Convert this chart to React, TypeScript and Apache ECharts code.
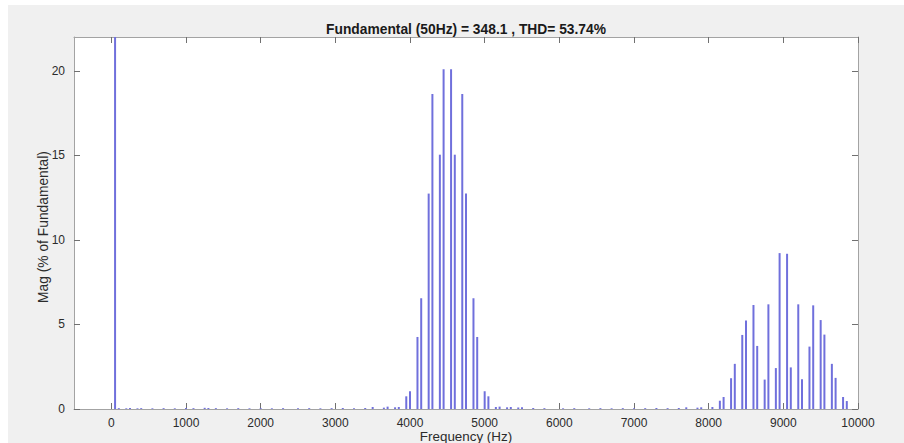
import React, { useEffect, useRef } from "react";
import * as echarts from "echarts";

const titleText = "Fundamental (50Hz) = 348.1 , THD= 53.74%";
const xAxisName = "Frequency (Hz)";
const yAxisName = "Mag (% of Fundamental)";

const xTicks = [0, 1000, 2000, 3000, 4000, 5000, 6000, 7000, 8000, 9000, 10000];
const yTicks = [0, 5, 10, 15, 20];

const fundamentalHz = [50];
const fundamentalMag = [100];

const bandOneHz = [3950, 4000, 4100, 4150, 4250, 4300, 4400, 4450, 4550, 4600, 4700, 4750, 4850, 4900, 5000, 5050];
const bandOneMag = [0.75, 1.05, 4.26, 6.55, 12.74, 18.63, 15.04, 20.1, 20.1, 15.04, 18.63, 12.74, 6.55, 4.26, 1.05, 0.75];

const bandTwoHz = [8150, 8200, 8300, 8350, 8450, 8500, 8600, 8650, 8750, 8800, 8900, 8950, 9050, 9100, 9200, 9250, 9350, 9400, 9500, 9550, 9650, 9700, 9800, 9850];
const bandTwoMag = [0.49, 0.71, 1.82, 2.67, 4.38, 5.24, 6.15, 3.73, 1.74, 6.19, 2.42, 9.22, 9.18, 2.46, 6.19, 1.76, 3.69, 6.13, 5.26, 4.4, 2.67, 1.84, 0.71, 0.47];

const noiseHz = [100, 200, 250, 350, 400, 550, 700, 850, 1000, 1100, 1250, 1300, 1400, 1550, 1700, 1850, 2000, 2150, 2300, 2500, 2650, 2800, 2950, 3100, 3250, 3400, 3500, 3650, 3700, 3800, 3850, 5150, 5200, 5300, 5350, 5450, 5500, 5650, 5800, 6050, 6200, 6400, 6550, 6700, 6850, 7000, 7150, 7300, 7450, 7600, 7700, 7850, 7900, 8050];
const noiseMag = [0.05, 0.04, 0.06, 0.04, 0.05, 0.04, 0.05, 0.04, 0.06, 0.05, 0.07, 0.06, 0.05, 0.04, 0.05, 0.04, 0.05, 0.04, 0.05, 0.04, 0.05, 0.04, 0.05, 0.06, 0.05, 0.06, 0.12, 0.08, 0.14, 0.1, 0.12, 0.12, 0.14, 0.1, 0.12, 0.09, 0.1, 0.06, 0.05, 0.04, 0.05, 0.04, 0.05, 0.04, 0.05, 0.04, 0.05, 0.06, 0.05, 0.06, 0.1, 0.08, 0.1, 0.12];

const BAR_COLOR = "#7070dc";
const BOX_COLOR = "#a3a3a3";
const TICK_COLOR = "#707070";
const TEXT_COLOR = "#2b2b2b";
const FONT = "'Liberation Sans', Arial, Helvetica, sans-serif";

function pairs(hz: number[], mag: number[]) {
  return hz.map((h, i) => [h, mag[i]]);
}

export default function App() {
  const ref = useRef<HTMLDivElement>(null);

  useEffect(() => {
    document.body.style.margin = "0";
    if (!ref.current) return;
    const chart = echarts.init(ref.current, undefined, { renderer: "svg" });

    const allData = [
      ...pairs(noiseHz, noiseMag),
      ...pairs(fundamentalHz, fundamentalMag),
      ...pairs(bandOneHz, bandOneMag),
      ...pairs(bandTwoHz, bandTwoMag),
    ];

    const baseX = {
      type: "value" as const,
      min: -500,
      max: 10000,
      splitLine: { show: false },
      axisLine: { show: true, onZero: false, lineStyle: { color: BOX_COLOR, width: 1 } },
    };
    const baseY = {
      type: "value" as const,
      min: 0,
      max: 22,
      splitLine: { show: false },
      axisLine: { show: true, onZero: false, lineStyle: { color: BOX_COLOR, width: 1 } },
    };

    chart.setOption({
      animation: false,
      backgroundColor: "#f0f0f0",
      grid: {
        left: 66,
        right: 46,
        top: 32,
        bottom: 34,
        show: true,
        backgroundColor: "#ffffff",
        borderWidth: 0,
      },
      xAxis: [
        {
          ...baseX,
          position: "bottom",
          axisTick: { show: true, inside: true, length: 6, customValues: xTicks, lineStyle: { color: TICK_COLOR } },
          axisLabel: {
            show: true,
            customValues: xTicks,
            formatter: (v: number) => String(v),
            margin: 8,
            color: TEXT_COLOR,
            fontSize: 12,
            fontFamily: FONT,
          },
        },
        {
          ...baseX,
          position: "top",
          axisTick: { show: true, inside: true, length: 6, customValues: xTicks, lineStyle: { color: TICK_COLOR } },
          axisLabel: { show: false },
        },
      ],
      yAxis: [
        {
          ...baseY,
          position: "left",
          axisTick: { show: true, inside: true, length: 6, customValues: yTicks, lineStyle: { color: TICK_COLOR } },
          axisLabel: {
            show: true,
            customValues: yTicks,
            formatter: (v: number) => String(v),
            margin: 9,
            color: TEXT_COLOR,
            fontSize: 12,
            fontFamily: FONT,
          },
        },
        {
          ...baseY,
          position: "right",
          axisTick: { show: true, inside: true, length: 6, customValues: yTicks, lineStyle: { color: TICK_COLOR } },
          axisLabel: { show: false },
        },
      ],
      graphic: [
        {
          type: "text",
          style: {
            text: titleText,
            x: 458,
            y: 24,
            align: "center",
            verticalAlign: "middle",
            fill: "#1a1a1a",
            font: `bold 13.8px ${FONT}`,
          },
        },
        {
          type: "text",
          style: {
            text: xAxisName,
            x: 458,
            y: 431,
            align: "center",
            verticalAlign: "middle",
            fill: TEXT_COLOR,
            font: `13.4px ${FONT}`,
          },
        },
        {
          type: "text",
          x: 35,
          y: 222,
          rotation: Math.PI / 2,
          style: {
            text: yAxisName,
            x: 0,
            y: 0,
            align: "center",
            verticalAlign: "middle",
            fill: TEXT_COLOR,
            font: `13.8px ${FONT}`,
          },
        },
      ],
      series: [
        {
          type: "bar",
          data: allData,
          barWidth: 2,
          clip: true,
          itemStyle: { color: BAR_COLOR },
          xAxisIndex: 0,
          yAxisIndex: 0,
        },
      ],
    });

    return () => chart.dispose();
  }, []);

  return (
    <div style={{ position: "relative", width: 904, height: 443, background: "#ffffff" }}>
      <div ref={ref} style={{ position: "absolute", left: 8, top: 5, width: 896, height: 438 }} />
    </div>
  );
}
